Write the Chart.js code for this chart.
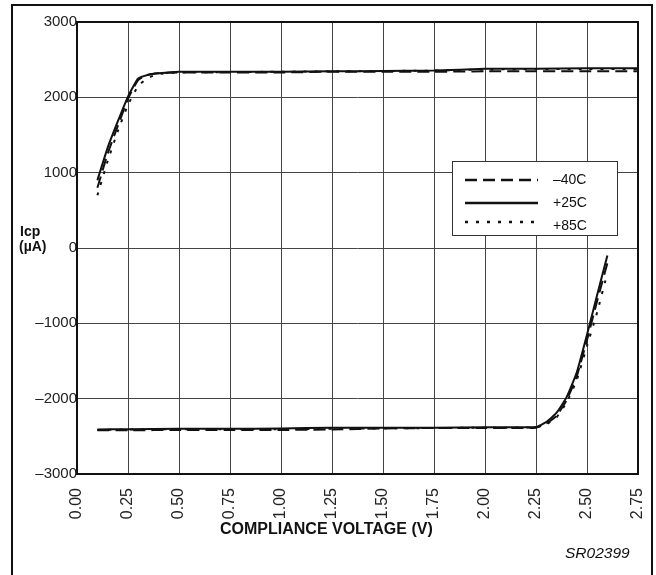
<!DOCTYPE html>
<html>
<head>
<meta charset="utf-8">
<script src="https://cdn.jsdelivr.net/npm/chart.js@4.4.0/dist/chart.umd.min.js"></script>
<style>
  body { margin:0; background:#fff; font-family:"Liberation Sans", Arial, sans-serif; }
  #wrap { position:relative; width:656px; height:575px; overflow:hidden; }
  #frame { position:absolute; left:11px; top:4px; width:642px; height:600px; border:2px solid #111; box-sizing:border-box; }
  canvas { position:absolute; left:0; top:0; }
  .lbl { position:absolute; color:#111; white-space:nowrap; }
</style>
</head>
<body>
<div id="wrap">
  <div id="frame"></div>
  <canvas id="mycanvas" width="656" height="575"></canvas>
  <div class="lbl" style="left:20px; top:223px; font-weight:bold; font-size:14px;">Icp</div>
  <div class="lbl" style="left:19px; top:238px; font-weight:bold; font-size:14px;">(µA)</div>
  <div class="lbl" style="left:220px; top:520px; font-weight:bold; font-size:16px;">COMPLIANCE VOLTAGE (V)</div>
  <div class="lbl" style="left:565px; top:544px; font-style:italic; font-size:15.5px;">SR02399</div>
</div>
<script>
// series data
var labels = ["\u201340C", "+25C", "+85C"];

var voltUp = [0.1, 0.15, 0.2, 0.25, 0.3, 0.35, 0.4, 0.5, 0.75, 1.0, 1.25, 1.5, 1.75, 2.0, 2.25, 2.5, 2.75];
var up_m40 = [800, 1250, 1620, 1980, 2230, 2300, 2320, 2330, 2330, 2330, 2340, 2340, 2340, 2345, 2345, 2345, 2345];
var up_p25 = [900, 1330, 1680, 2010, 2250, 2300, 2320, 2340, 2340, 2340, 2345, 2350, 2355, 2380, 2380, 2385, 2385];
var up_p85 = [700, 1150, 1550, 1900, 2150, 2260, 2310, 2330, 2335, 2340, 2345, 2350, 2355, 2370, 2375, 2375, 2375];

var voltDown = [0.1, 0.25, 0.5, 0.75, 1.0, 1.25, 1.5, 1.75, 2.0, 2.25, 2.3, 2.35, 2.4, 2.45, 2.5, 2.55, 2.6];
var down_m40 = [-2420, -2420, -2415, -2415, -2415, -2410, -2395, -2390, -2390, -2385, -2330, -2230, -2020, -1700, -1220, -700, -200];
var down_p25 = [-2410, -2405, -2400, -2400, -2395, -2385, -2385, -2385, -2380, -2375, -2310, -2190, -1980, -1650, -1150, -620, -100];
var down_p85 = [-2415, -2410, -2405, -2405, -2405, -2400, -2395, -2390, -2385, -2380, -2340, -2250, -2050, -1750, -1300, -850, -330];

var yTicks = [-3000, -2000, -1000, 0, 1000, 2000, 3000];

var dashes = [[12, 6], [], [3, 8]];

function pts(xs, ys) {
	var out = [];
	for (var i in xs) out.push({x: xs[i], y: ys[i]});
	return out;
}

function ds(xs, ys, k) {
	return {
		label: labels[k],
		data: pts(xs, ys),
		showLine: true,
		borderColor: "#111",
		borderWidth: 2,
		borderDash: dashes[k],
		pointRadius: 0,
		tension: 0.15,
		fill: false
	};
}

var chartdata = {
	datasets: [
		ds(voltUp, up_m40, 0), ds(voltUp, up_p25, 1), ds(voltUp, up_p85, 2),
		ds(voltDown, down_m40, 0), ds(voltDown, down_p25, 1), ds(voltDown, down_p85, 2)
	]
};

// frame around plot + legend box inside it
var boxPlugin = {
	id: "boxPlugin",
	afterDatasetsDraw: function(chart) {
		var c = chart.ctx, a = chart.chartArea;
		c.save();
		c.strokeStyle = "#111";
		c.lineWidth = 2;
		c.strokeRect(a.left, a.top, a.right - a.left, a.bottom - a.top);

		var bx = 452, by = 161, bw = 165, bh = 74;
		c.fillStyle = "#fff";
		c.fillRect(bx, by, bw, bh);
		c.lineWidth = 1;
		c.strokeStyle = "#333";
		c.strokeRect(bx + 0.5, by + 0.5, bw, bh);
		var rows = [180, 203, 222];
		c.font = "14px 'Liberation Sans', Arial, sans-serif";
		c.textBaseline = "middle";
		for (var k = 0; k < 3; k++) {
			c.beginPath();
			c.setLineDash(dashes[k]);
			c.lineWidth = 2.5;
			c.strokeStyle = "#111";
			c.moveTo(465, rows[k]);
			c.lineTo(538, rows[k]);
			c.stroke();
			c.setLineDash([]);
			c.fillStyle = "#111";
			c.fillText(labels[k], 553, rows[k] + (k == 2 ? 4 : 0));
		}
		c.restore();
	}
};

var ctx = document.getElementById("mycanvas");

var LineGraph = new Chart(ctx, {
	type: "scatter",
	data: chartdata,
	options: {
		responsive: false,
		animation: false,
		layout: { padding: { top: 22, right: 18, left: 0, bottom: 0 } },
		plugins: { legend: { display: false }, tooltip: { enabled: false } },
		scales: {
			x: {
				type: "linear",
				min: 0, max: 2.75,
				afterFit: function(s) { s.height = 101; s.paddingLeft = 0; s.paddingRight = 0; },
				afterBuildTicks: function(s) {
					var t = [];
					for (var i = 0; i <= 11; i++) t.push({value: i * 0.25});
					s.ticks = t;
				},
				grid: { color: "#444", lineWidth: 1, drawTicks: false },
				border: { display: false },
				ticks: {
					maxRotation: 90, minRotation: 90, padding: 14,
					color: "#222",
					font: { family: "'Liberation Sans', Arial, sans-serif", size: 16 },
					callback: function(v) { return Number(v).toFixed(2); }
				}
			},
			y: {
				min: -3000, max: 3000,
				afterFit: function(s) { s.width = 77; s.paddingTop = 0; s.paddingBottom = 0; },
				afterBuildTicks: function(s) {
					s.ticks = yTicks.map(function(v) { return {value: v}; });
				},
				grid: { color: "#444", lineWidth: 1, drawTicks: false },
				border: { display: false },
				ticks: {
					padding: 0,
					color: "#222",
					font: { family: "'Liberation Sans', Arial, sans-serif", size: 15 },
					callback: function(v) { return v < 0 ? "\u2013" + Math.abs(v) : String(v); }
				}
			}
		}
	},
	plugins: [boxPlugin]
});
</script>
</body>
</html>
